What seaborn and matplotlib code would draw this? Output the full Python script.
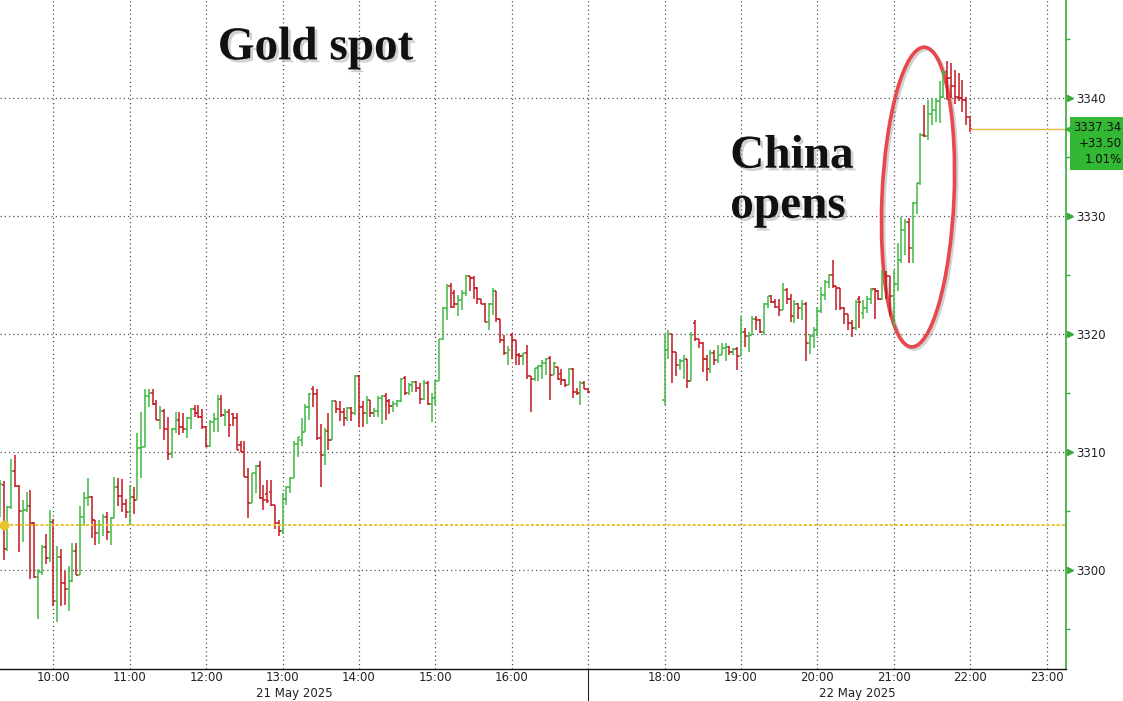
import numpy as np
import pandas as pd
import matplotlib
matplotlib.use("Agg")
import matplotlib.pyplot as plt
import matplotlib.patheffects as pe
import matplotlib.transforms as mtransforms
from matplotlib.patches import Ellipse
import seaborn as sns

# 3 minute OHLC bars, session 1 (09:18 -> 17:00)
s1_open = [3305.0, 3307.2, 3301.8, 3305.3, 3308.4, 3307.1, 3305.0, 3305.1, 3305.4, 3304.0, 3299.4, 3299.8, 3301.9, 3301.0,
           3304.1, 3297.4, 3301.1, 3298.9, 3298.4, 3299.1, 3301.6, 3299.6, 3304.5, 3306.1, 3306.2, 3304.2, 3303.1, 3303.8, 3304.5, 3303.2, 3304.4, 3307.0, 3306.3, 3305.6,
           3304.9, 3306.2, 3305.9, 3310.3, 3310.4, 3314.7, 3315.0, 3314.1, 3312.7, 3313.5, 3311.9, 3309.8, 3311.9, 3312.7, 3312.1, 3311.9, 3312.9, 3313.6, 3313.3, 3313.0,
           3312.1, 3310.5, 3312.5, 3312.8, 3314.5, 3313.1, 3313.4, 3313.2, 3312.9, 3310.6, 3310.0, 3307.9, 3305.7, 3308.2, 3308.8, 3306.1, 3306.4, 3306.6, 3305.5, 3304.0,
           3303.3, 3306.0, 3307.0, 3307.8, 3310.7, 3311.0, 3311.7, 3313.8, 3315.3, 3314.9, 3311.2, 3309.7, 3311.8, 3311.0, 3314.3, 3313.6, 3313.4, 3312.9, 3313.7, 3313.3,
           3316.4, 3313.8, 3313.3, 3314.4, 3313.3, 3313.5, 3314.6, 3314.7, 3314.3, 3313.9, 3314.1, 3314.3, 3316.3, 3315.0, 3315.7, 3315.9, 3315.4, 3314.5, 3315.8, 3314.1,
           3314.6, 3316.0, 3319.6, 3322.2, 3324.1, 3323.5, 3322.5, 3322.9, 3323.5, 3324.9, 3324.7, 3323.9, 3323.0, 3322.5, 3321.0, 3322.5, 3323.6, 3321.3, 3319.5, 3318.4,
           3319.9, 3319.5, 3318.2, 3318.1, 3318.4, 3316.4, 3316.2, 3317.1, 3317.3, 3317.5, 3318.0, 3316.5, 3317.2, 3316.6, 3316.1, 3315.7, 3317.0, 3315.1, 3315.0, 3315.8, 3315.3]
s1_high = [3307.6, 3307.5, 3305.4, 3309.4, 3309.7, 3307.2, 3305.9, 3306.6, 3306.8, 3304.1, 3300.1, 3302.1, 3303.0, 3305.1,
           3304.3, 3302.0, 3301.8, 3299.9, 3300.3, 3302.3, 3302.3, 3305.4, 3306.6, 3307.8, 3306.3, 3304.2, 3304.2, 3304.7, 3304.9, 3304.5, 3307.9, 3307.8, 3307.7, 3306.0,
           3307.2, 3307.0, 3311.6, 3313.4, 3315.3, 3315.3, 3315.3, 3314.4, 3313.9, 3313.6, 3313.0, 3312.0, 3313.4, 3313.4, 3313.3, 3313.0, 3313.7, 3314.0, 3314.0, 3313.6,
           3312.2, 3312.7, 3313.3, 3314.8, 3314.8, 3313.6, 3313.6, 3313.3, 3313.3, 3310.9, 3310.9, 3308.6, 3308.2, 3308.9, 3309.2, 3307.2, 3307.6, 3307.6, 3305.5, 3304.2,
           3306.5, 3307.1, 3307.9, 3310.9, 3311.3, 3312.9, 3314.1, 3315.0, 3315.6, 3315.3, 3312.4, 3312.0, 3313.3, 3314.4, 3314.3, 3314.3, 3313.7, 3313.8, 3313.8, 3316.5,
           3316.5, 3314.3, 3314.7, 3314.4, 3313.7, 3314.7, 3314.8, 3315.0, 3314.5, 3314.3, 3314.4, 3316.3, 3316.4, 3315.8, 3316.0, 3316.0, 3315.8, 3316.1, 3316.0, 3315.0,
           3316.1, 3319.6, 3322.3, 3324.2, 3324.3, 3323.7, 3323.3, 3323.7, 3325.0, 3324.9, 3324.9, 3324.0, 3323.0, 3322.6, 3322.6, 3323.9, 3323.6, 3321.3, 3319.9, 3319.0,
           3320.1, 3319.5, 3318.4, 3318.4, 3319.1, 3316.4, 3317.1, 3317.4, 3317.8, 3318.0, 3318.1, 3317.6, 3317.2, 3317.0, 3316.2, 3317.1, 3317.1, 3315.4, 3316.0, 3316.0, 3315.3]
s1_low = [3304.5, 3300.8, 3301.6, 3305.2, 3307.0, 3301.5, 3302.4, 3304.9, 3299.2, 3299.3, 3295.8, 3299.6, 3300.5, 3300.7,
          3296.9, 3295.6, 3296.9, 3297.0, 3296.5, 3299.0, 3299.6, 3299.6, 3303.7, 3305.4, 3302.7, 3302.1, 3302.2, 3302.9, 3302.5, 3302.1, 3304.4, 3305.4, 3304.9, 3304.4,
          3303.8, 3304.7, 3305.9, 3307.8, 3310.4, 3313.8, 3314.0, 3312.7, 3311.9, 3311.0, 3309.3, 3309.5, 3311.6, 3311.4, 3311.6, 3311.2, 3311.9, 3313.0, 3312.9, 3311.9,
          3310.4, 3310.4, 3311.7, 3311.7, 3313.0, 3312.2, 3311.3, 3312.2, 3310.2, 3310.0, 3307.9, 3304.4, 3305.7, 3306.5, 3306.0, 3305.1, 3305.7, 3305.4, 3303.5, 3302.9,
          3303.0, 3305.5, 3306.5, 3307.8, 3309.6, 3310.5, 3311.7, 3312.7, 3313.8, 3311.0, 3307.0, 3308.9, 3310.2, 3311.0, 3313.3, 3312.6, 3312.2, 3312.6, 3312.6, 3313.1,
          3312.1, 3312.1, 3312.4, 3313.0, 3313.0, 3313.0, 3312.4, 3312.7, 3313.2, 3313.4, 3313.8, 3314.2, 3314.8, 3314.8, 3315.1, 3315.1, 3314.1, 3314.4, 3314.0, 3312.5,
          3314.0, 3316.0, 3319.5, 3321.2, 3322.2, 3322.2, 3321.5, 3322.0, 3323.2, 3323.6, 3323.0, 3322.5, 3322.5, 3321.0, 3320.3, 3321.6, 3321.0, 3319.2, 3318.2, 3317.4,
          3317.9, 3317.4, 3317.4, 3317.4, 3316.2, 3313.4, 3316.0, 3316.0, 3316.2, 3316.5, 3314.4, 3316.5, 3316.1, 3315.7, 3315.5, 3315.7, 3314.6, 3314.8, 3314.0, 3315.3, 3315.0]
s1_close = [3307.3, 3301.8, 3305.3, 3308.4, 3307.1, 3305.0, 3305.1, 3305.4, 3304.0, 3299.4, 3299.8, 3301.9, 3301.0, 3304.1,
            3297.4, 3301.1, 3298.9, 3298.4, 3299.1, 3301.6, 3299.6, 3304.5, 3306.1, 3306.2, 3304.2, 3303.1, 3303.8, 3304.5, 3303.2, 3304.4, 3307.0, 3306.3, 3305.6, 3304.9,
            3306.2, 3305.9, 3310.3, 3310.4, 3314.7, 3315.0, 3314.1, 3312.7, 3313.5, 3311.9, 3309.8, 3311.9, 3312.7, 3312.1, 3311.9, 3312.9, 3313.6, 3313.3, 3313.0, 3312.1,
            3310.5, 3312.5, 3312.8, 3314.5, 3313.1, 3313.4, 3312.3, 3312.9, 3310.2, 3310.0, 3307.9, 3305.7, 3308.2, 3308.8, 3306.1, 3305.9, 3305.8, 3305.5, 3304.0, 3303.3,
            3306.0, 3307.0, 3307.8, 3310.7, 3311.3, 3311.7, 3313.8, 3314.9, 3314.9, 3311.2, 3309.7, 3311.8, 3311.0, 3314.3, 3313.6, 3313.4, 3312.9, 3313.7, 3313.3, 3316.4,
            3313.8, 3313.3, 3314.4, 3313.3, 3313.5, 3314.6, 3314.7, 3314.3, 3313.9, 3314.1, 3314.3, 3316.2, 3315.0, 3315.7, 3315.9, 3315.4, 3314.5, 3315.8, 3314.1, 3314.6,
            3316.0, 3319.6, 3322.2, 3324.1, 3322.3, 3322.5, 3322.9, 3323.5, 3324.9, 3324.7, 3323.9, 3323.0, 3322.5, 3321.0, 3322.5, 3323.6, 3321.3, 3319.5, 3318.4, 3318.6,
            3319.5, 3318.2, 3318.1, 3318.4, 3316.4, 3316.2, 3317.1, 3317.3, 3317.5, 3317.9, 3316.5, 3317.5, 3316.2, 3316.1, 3315.7, 3317.0, 3315.1, 3315.0, 3315.8, 3315.3, 3315.1]

# session 2 (18:00 -> 22:00)
s2_open = [3314.4, 3318.6, 3320.0, 3318.5, 3317.4, 3317.7, 3317.9, 3316.0, 3320.9, 3319.6,
           3319.2, 3317.9, 3317.0, 3318.4, 3317.8, 3318.2, 3318.8, 3318.9, 3318.5, 3318.7,
           3318.1, 3320.2, 3319.8, 3319.9, 3321.3, 3321.2, 3320.2, 3322.5, 3323.2, 3322.7,
           3322.3, 3322.0, 3323.7, 3323.0, 3321.5, 3322.5, 3322.2, 3322.5, 3319.2, 3319.8,
           3320.3, 3321.9, 3323.3, 3324.4, 3325.0, 3324.1, 3323.9, 3322.2, 3321.7, 3320.9,
           3320.5, 3323.0, 3321.8, 3322.2, 3323.0, 3323.8, 3323.6, 3323.0, 3325.1, 3324.9,
           3323.2, 3324.2, 3326.3, 3328.8, 3329.5, 3327.3, 3331.1, 3332.8, 3336.9, 3336.8,
           3338.6, 3339.0, 3339.7, 3340.1, 3342.2, 3341.7, 3341.0, 3340.1, 3340.0, 3339.8, 3338.4]
s2_high = [3320.0, 3320.3, 3320.0, 3318.5, 3317.9, 3318.2, 3317.9, 3320.2, 3321.2, 3319.6,
           3319.3, 3318.2, 3318.6, 3318.6, 3319.1, 3319.2, 3319.2, 3319.0, 3318.8, 3318.9,
           3321.5, 3320.5, 3320.2, 3321.5, 3321.5, 3321.3, 3322.6, 3323.2, 3323.3, 3323.0,
           3323.0, 3324.3, 3323.9, 3323.4, 3322.9, 3322.6, 3322.9, 3322.7, 3320.0, 3320.6,
           3322.3, 3324.0, 3324.6, 3325.1, 3326.3, 3324.1, 3323.9, 3322.3, 3321.7, 3321.2,
           3322.9, 3323.2, 3322.9, 3323.2, 3323.9, 3323.9, 3323.7, 3325.4, 3325.3, 3324.9,
           3325.4, 3327.7, 3329.9, 3329.7, 3329.8, 3331.2, 3332.8, 3337.0, 3339.4, 3339.8,
           3340.0, 3340.0, 3341.4, 3342.4, 3343.1, 3343.0, 3342.4, 3342.1, 3341.5, 3340.1, 3338.4]
s2_low = [3314.0, 3317.9, 3315.8, 3316.4, 3316.9, 3316.2, 3315.4, 3316.0, 3319.4, 3318.8,
          3316.8, 3316.0, 3316.7, 3317.4, 3317.5, 3318.2, 3317.7, 3318.2, 3318.2, 3316.9,
          3318.1, 3318.9, 3318.5, 3319.9, 3320.3, 3320.1, 3319.9, 3322.2, 3322.6, 3322.2,
          3321.5, 3322.0, 3322.5, 3321.0, 3320.9, 3321.3, 3321.2, 3317.7, 3318.3, 3318.8,
          3319.8, 3321.8, 3322.9, 3323.9, 3323.9, 3322.0, 3322.0, 3320.8, 3320.3, 3319.7,
          3320.3, 3320.5, 3321.3, 3321.8, 3322.5, 3321.3, 3322.9, 3322.9, 3323.0, 3321.5,
          3320.6, 3323.6, 3326.0, 3326.7, 3326.0, 3326.0, 3330.2, 3332.6, 3336.7, 3336.4,
          3337.7, 3338.0, 3337.9, 3340.0, 3339.8, 3340.0, 3339.5, 3339.7, 3338.8, 3337.7, 3337.1]
s2_close = [3318.6, 3320.0, 3318.5, 3317.4, 3317.7, 3317.9, 3316.0, 3319.9, 3319.6, 3319.2,
            3317.9, 3317.0, 3318.4, 3317.8, 3318.2, 3318.8, 3318.9, 3318.5, 3318.7, 3318.1,
            3320.2, 3319.8, 3319.9, 3321.3, 3321.2, 3320.2, 3322.5, 3323.2, 3322.7, 3322.3,
            3322.0, 3323.7, 3323.0, 3321.5, 3322.5, 3322.2, 3322.5, 3319.2, 3319.8, 3320.3,
            3321.9, 3323.3, 3324.4, 3325.0, 3324.1, 3323.9, 3322.2, 3321.7, 3320.9, 3320.5,
            3322.7, 3322.7, 3322.2, 3323.0, 3323.7, 3323.6, 3323.0, 3325.0, 3324.9, 3323.2,
            3324.2, 3326.3, 3328.8, 3329.5, 3327.3, 3331.1, 3332.8, 3336.9, 3336.8, 3338.6,
            3339.0, 3339.7, 3340.1, 3342.1, 3341.7, 3341.0, 3340.1, 3340.0, 3339.8, 3338.4, 3337.4]

prev_close = 3303.84
last_price = 3337.34
last_change = "+33.50"
last_pct = "1.01%"

hour_ticks = [10, 11, 12, 13, 14, 15, 16, 17, 18, 19, 20, 21, 22, 23]
hour_labels = ["10:00", "11:00", "12:00", "13:00", "14:00", "15:00", "16:00", "",
               "18:00", "19:00", "20:00", "21:00", "22:00", "23:00"]
price_ticks = [3300, 3310, 3320, 3330, 3340]
price_minor = [3295, 3305, 3315, 3325, 3335, 3345]
day_labels = ["21 May 2025", "22 May 2025"]

GREEN = "#42b845"
RED = "#c3161f"
AXIS_GREEN = "#3aa83a"
BOX_GREEN = "#33b833"
GOLD = "#e6c42a"

# one frame, bar time expressed in hours
t1 = pd.date_range("2025-05-21 09:18", periods=len(s1_close), freq="3min")
t2 = pd.date_range("2025-05-21 18:00", periods=len(s2_close), freq="3min")
df = pd.DataFrame({
    "time": t1.append(t2),
    "open": s1_open + s2_open,
    "high": s1_high + s2_high,
    "low": s1_low + s2_low,
    "close": s1_close + s2_close,
})
df["x"] = df["time"].dt.hour + df["time"].dt.minute / 60
df["color"] = np.where(df["close"] >= df["open"], GREEN, RED)

sns.set_theme(style="white")
plt.rcParams["font.family"] = ["DejaVu Sans"]

fig = plt.figure(figsize=(11.23, 7.01), dpi=100)
ax = fig.add_axes([0, 32 / 701, 1066 / 1123, 669 / 701])

tw = 0.028  # open/close tick length in hours
ax.vlines(df["x"], df["low"], df["high"], colors=df["color"], lw=1.1)
ax.hlines(df["open"], df["x"] - tw, df["x"], colors=df["color"], lw=1.1)
ax.hlines(df["close"], df["x"], df["x"] + tw, colors=df["color"], lw=1.1)

x_left, x_right = 9.302, 23.255

# previous close and last price lines
ax.axhline(prev_close, color=GOLD, lw=1.4, ls=(0, (1.6, 1.0)))
ax.plot(0.004, prev_close, "o", ms=6, color=GOLD, transform=ax.get_yaxis_transform(), clip_on=False)
ax.hlines(last_price, df["x"].iloc[-1], x_right, color="#e8b84a", lw=1.0)

ax.set_xlim(x_left, x_right)
ax.set_ylim(3291.6, 3348.3)
ax.set_xticks(hour_ticks, labels=hour_labels)
ax.set_xticks(np.arange(9.5, 23.5, 1.0), minor=True)
ax.grid(True, which="major", color="#555555", lw=0.9, ls=(0, (1, 2.4)))

for s in ["left", "top"]:
    ax.spines[s].set_visible(False)
ax.spines["right"].set_color(AXIS_GREEN)
ax.spines["right"].set_linewidth(1.2)
ax.spines["bottom"].set_color("#111111")
ax.spines["bottom"].set_linewidth(1.0)

ax.yaxis.tick_right()
ax.set_yticks(price_ticks)
ax.set_yticks(price_minor, minor=True)
ax.tick_params(axis="y", which="major", length=0, pad=7, labelsize=8.5, labelcolor="#222222")
ax.tick_params(axis="y", which="minor", length=3, width=1, color=AXIS_GREEN, direction="out")
ax.tick_params(axis="x", which="major", length=0, pad=1.5, labelsize=8.5, labelcolor="#222222")
ax.tick_params(axis="x", which="minor", length=2.5, width=0.8, color="#333333")

tri = mtransforms.offset_copy(ax.get_yaxis_transform(), fig=fig, x=4, units="dots")
ax.plot([1.0] * len(price_ticks), price_ticks, ls="none", marker=">", ms=5,
        color=AXIS_GREEN, transform=tri, clip_on=False)

# date labels and session separator below the axis
xax = ax.get_xaxis_transform()
ax.text(13.15, -0.036, day_labels[0], transform=xax, ha="center", va="center", fontsize=8.5, color="#222222")
ax.text(20.52, -0.036, day_labels[1], transform=xax, ha="center", va="center", fontsize=8.5, color="#222222")
ax.plot([17, 17], [0, -0.06], transform=xax, color="#222222", lw=0.8, clip_on=False)

# last price tag
tag = mtransforms.offset_copy(ax.get_yaxis_transform(), fig=fig, x=4, units="dots")
ax.plot(1.0, last_price, marker="<", ms=7, color=BOX_GREEN, transform=tag, clip_on=False)
ax.annotate(f"{last_price:.2f}\n{last_change}\n{last_pct}", xy=(1.0, last_price),
            xycoords=ax.get_yaxis_transform(), xytext=(40, 6), textcoords="offset points",
            ha="right", va="top", fontsize=8.5, color="#111111", linespacing=1.3,
            bbox=dict(boxstyle="square,pad=0.3", fc=BOX_GREEN, ec="none"),
            annotation_clip=False)

# headline annotations
shadow = [pe.withSimplePatchShadow(offset=(2, -2), shadow_rgbFace="#9a9a9a", alpha=0.45)]
ax.text(13.43, 3344.2, "Gold spot", ha="center", va="center", fontsize=34, fontweight="bold",
        family=["Liberation Serif"], color="#111111", path_effects=shadow)
ax.text(18.86, 3332.9, "China\nopens", ha="left", va="center", fontsize=34, fontweight="bold",
        family=["Liberation Serif"], color="#111111", linespacing=1.25, path_effects=shadow)

ring = Ellipse((0, 0), 72, 300, angle=-2.5, fill=False, ec="#e8474b", lw=2.6,
               transform=mtransforms.ScaledTranslation(21.318, 3331.6, ax.transData),
               path_effects=[pe.SimpleLineShadow(offset=(1.5, -1.5), alpha=0.2), pe.Normal()])
ax.add_patch(ring)
ax.set_xlim(x_left, x_right)
ax.set_ylim(3291.6, 3348.3)

fig.savefig("out.png", dpi=100)
